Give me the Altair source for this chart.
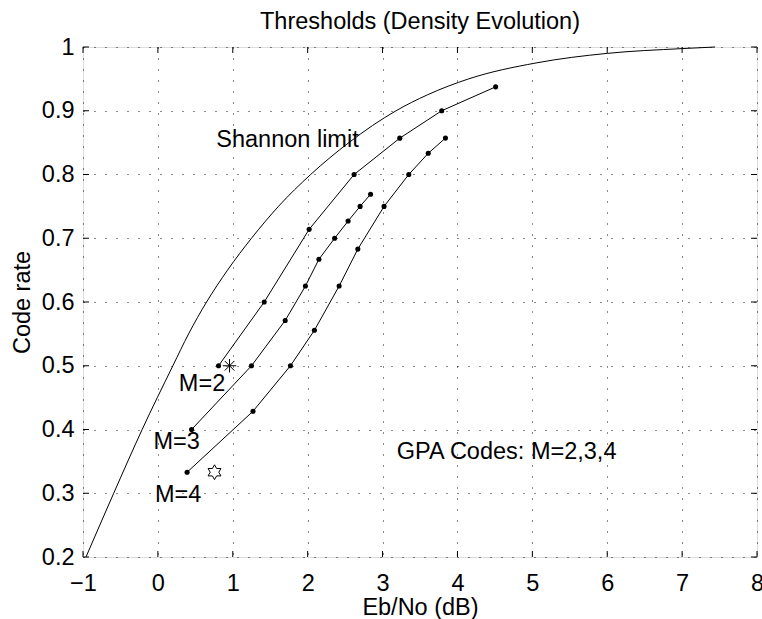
import altair as alt
import pandas as pd

# ---- data ----
shannon_x = [-0.96, -0.59, -0.21, 0.20, 0.41, 0.65, 0.93, 1.25, 1.61, 2.04, 2.55, 3.18, 3.60, 4.15, 5.05, 6.0, 7.0, 7.44]
shannon_y = [0.2, 0.3, 0.4, 0.5, 0.55, 0.6, 0.65, 0.7, 0.75, 0.8, 0.85, 0.9, 0.925, 0.95, 0.975, 0.99, 0.9975, 1.0]

m2_x = [0.81, 1.42, 2.02, 2.62, 3.23, 3.79, 4.51]
m2_y = [0.5, 0.6, 0.714, 0.8, 0.857, 0.9, 0.9375]

m3_x = [0.45, 1.25, 1.70, 1.97, 2.15, 2.36, 2.54, 2.70, 2.84]
m3_y = [0.4, 0.5, 0.571, 0.625, 0.667, 0.7, 0.727, 0.75, 0.769]

m4_x = [0.39, 1.27, 1.77, 2.09, 2.42, 2.67, 3.02, 3.35, 3.61, 3.84]
m4_y = [0.333, 0.4286, 0.5, 0.5556, 0.625, 0.683, 0.75, 0.8, 0.8333, 0.8571]

asterisk_pt = [0.957, 0.5]
hexagram_pt = [0.756, 0.333]

labels_text = ["Shannon limit", "M=2", "M=3", "M=4", "GPA Codes: M=2,3,4"]
labels_x = [0.78, 0.28, -0.06, -0.04, 3.19]
labels_y = [0.854, 0.472, 0.380, 0.297, 0.364]

title_text = ["Thresholds (Density Evolution)"]
x_title = "Eb/No (dB)"
y_title = "Code rate"

x_ticks = [-1, 0, 1, 2, 3, 4, 5, 6, 7, 8]
y_ticks = [0.2, 0.3, 0.4, 0.5, 0.6, 0.7, 0.8, 0.9, 1.0]

# ---- layout ----
W, H = 674, 510
FONT = "Liberation Sans"
FS = 23.5

xs = alt.Scale(domain=[-1, 8], nice=False, zero=False)
ys = alt.Scale(domain=[0.2, 1], nice=False, zero=False)

shannon_df = pd.DataFrame({"x": shannon_x, "y": shannon_y})
series_df = pd.concat([
    pd.DataFrame({"x": m2_x, "y": m2_y, "s": "M=2"}),
    pd.DataFrame({"x": m3_x, "y": m3_y, "s": "M=3"}),
    pd.DataFrame({"x": m4_x, "y": m4_y, "s": "M=4"}),
], ignore_index=True)
labels_df = pd.DataFrame({"x": labels_x, "y": labels_y, "t": labels_text})
ast_df = pd.DataFrame({"x": [asterisk_pt[0]], "y": [asterisk_pt[1]]})
hex_df = pd.DataFrame({"x": [hexagram_pt[0]], "y": [hexagram_pt[1]]})
xt_df = pd.DataFrame({"x": x_ticks})
yt_df = pd.DataFrame({"y": y_ticks})
title_df = pd.DataFrame({"t": title_text})

x_axis = alt.Axis(
    values=x_ticks, title=x_title, format="~g",
    grid=True, gridColor="#000000", gridDash=[1, 10], gridWidth=1, gridOpacity=0.9,
    ticks=False, tickSize=0, domain=False,
    labelFont=FONT, labelFontSize=FS, labelColor="#000000", labelPadding=14,
    labelFlush=False, labelOverlap=False,
    titleFont=FONT, titleFontSize=FS, titleFontWeight="normal", titleColor="#000000",
    titleBaseline="alphabetic", titleY=57,
)
y_axis = alt.Axis(
    values=y_ticks, title=y_title, format="~g",
    grid=True, gridColor="#000000", gridDash=[1, 10], gridWidth=1, gridOpacity=0.9,
    ticks=False, tickSize=0, domain=False,
    labelFont=FONT, labelFontSize=FS, labelColor="#000000", labelPadding=9,
    labelFlush=False, labelOverlap=False,
    titleFont=FONT, titleFontSize=FS, titleFontWeight="normal", titleColor="#000000",
    titleBaseline="alphabetic", titleX=-54, titleAngle=-90,
)

X = alt.X("x:Q", scale=xs, axis=x_axis)
Y = alt.Y("y:Q", scale=ys, axis=y_axis)

shannon = alt.Chart(shannon_df).mark_line(
    color="black", strokeWidth=1, interpolate="monotone"
).encode(x=X, y=Y)

lines = alt.Chart(series_df).mark_line(color="black", strokeWidth=1).encode(
    x=X, y=Y, detail="s:N",
)
dots = alt.Chart(series_df).mark_point(
    shape="circle", filled=True, color="black", size=26, opacity=1
).encode(x=X, y=Y)

ast_path = "M0,-1L0,1M-1,0L1,0M-0.72,-0.72L0.72,0.72M-0.72,0.72L0.72,-0.72"
hex_path = ("M0,-1L0.2887,-0.5L0.866,-0.5L0.577,0L0.866,0.5L0.2887,0.5L0,1"
            "L-0.2887,0.5L-0.866,0.5L-0.577,0L-0.866,-0.5L-0.2887,-0.5Z")

ast = alt.Chart(ast_df).mark_point(
    shape=ast_path, filled=False, stroke="black", strokeWidth=1, size=180, opacity=1
).encode(x=X, y=Y)

hexa = alt.Chart(hex_df).mark_point(
    shape=hex_path, filled=False, stroke="black", strokeWidth=1, size=220, opacity=1
).encode(x=X, y=Y)

texts = alt.Chart(labels_df).mark_text(
    align="left", baseline="middle", font=FONT, fontSize=FS, color="black"
).encode(x=X, y=Y, text="t:N")

title = alt.Chart(title_df).mark_text(
    align="center", baseline="alphabetic", font=FONT, fontSize=FS, color="black"
).encode(x=alt.value(W / 2), y=alt.value(-18), text="t:N")

TL = 6
tick_b = alt.Chart(xt_df).mark_rule(color="black", strokeWidth=1).encode(
    x=X, y=alt.value(H), y2=alt.value(H - TL))
tick_t = alt.Chart(xt_df).mark_rule(color="black", strokeWidth=1).encode(
    x=X, y=alt.value(0), y2=alt.value(TL))
tick_l = alt.Chart(yt_df).mark_rule(color="black", strokeWidth=1).encode(
    y=Y, x=alt.value(0), x2=alt.value(TL))
tick_r = alt.Chart(yt_df).mark_rule(color="black", strokeWidth=1).encode(
    y=Y, x=alt.value(W), x2=alt.value(W - TL))

chart = alt.layer(
    shannon, lines, dots, ast, hexa, texts, title, tick_b, tick_t, tick_l, tick_r
).properties(
    width=W, height=H,
    autosize=alt.AutoSizeParams(type="none"),
    padding={"left": 83, "top": 47, "right": 5, "bottom": 62},
).configure_view(
    stroke="black", strokeWidth=1.5
).configure(background="white")

chart.save("out.html", embed_options={"renderer": "svg", "actions": False})
